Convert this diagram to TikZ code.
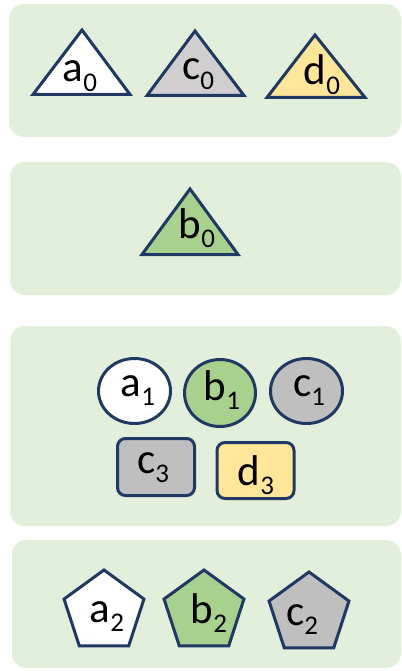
\documentclass[tikz,border=0pt]{standalone}
\usepackage{fontspec}
\setmainfont{Carlito}
\usetikzlibrary{shapes.geometric}
\definecolor{panelfill}{HTML}{E2EFDA}
\definecolor{edgecol}{RGB}{32,56,100}
\definecolor{grayA}{HTML}{D0CECE}
\definecolor{grayB}{HTML}{BFBFBF}
\definecolor{yel}{HTML}{FFE699}
\definecolor{grn}{HTML}{A9D18E}
\newcommand{\lbl}[2]{#1\raisebox{-0.21em}{\fontsize{27}{27}\selectfont #2}}
\tikzset{
  panelbox/.style={fill=panelfill, draw=none, rounded corners=15pt},
  shp/.style={draw=edgecol, line width=3pt},
  txt/.style={inner sep=0pt, anchor=base, font=\fontsize{43}{43}\selectfont},
  ell/.style={shp, ellipse, inner sep=0pt},
  rbox/.style={shp, rectangle, rounded corners=8pt, inner sep=0pt, minimum width=77pt, minimum height=57pt},
  pent/.style={shp, regular polygon, regular polygon sides=5, inner sep=0pt, minimum size=84pt}
}
\begin{document}
\begin{tikzpicture}[x=1pt,y=-1pt]
\useasboundingbox (0,0) rectangle (401,671);
% panels
\path[panelbox] (9,4) rectangle (401,137);
\path[panelbox] (10,162) rectangle (401,295);
\path[panelbox] (10,326) rectangle (401,526);
\path[panelbox] (12,540) rectangle (401,668);
% triangles panel 1
\draw[shp, fill=white] (82,30) -- (130,94.5) -- (33,94.5) -- cycle;
\node[txt] (a0) at (80,82) {\lbl{a}{0}};
\draw[shp, fill=grayA] (195,31) -- (244,95.5) -- (147,95.5) -- cycle;
\node[txt] (c0) at (198,80) {\lbl{c}{0}};
\draw[shp, fill=yel] (315,35) -- (365,97.5) -- (267,97.5) -- cycle;
\node[txt] (d0) at (322,85) {\lbl{d}{0}};
% panel 2
\draw[shp, fill=grn] (190,189) -- (238,254.5) -- (142,254.5) -- cycle;
\node[txt] (b0) at (197,238) {\lbl{b}{0}};
% panel 3
\node[ell, fill=white, minimum width=72pt, minimum height=65pt] (a1s) at (134.5,391) {};
\node[txt] (a1) at (138,396) {\lbl{a}{1}};
\node[ell, fill=grn, minimum width=71pt, minimum height=67pt] (b1s) at (220,393) {};
\node[txt] (b1) at (222,400) {\lbl{b}{1}};
\node[ell, fill=grayB, minimum width=72pt, minimum height=65pt] (c1s) at (306.5,391) {};
\node[txt] (c1) at (309,396) {\lbl{c}{1}};
\node[rbox, fill=grayB] (c3s) at (156,467) {};
\node[txt] (c3) at (153,473) {\lbl{c}{3}};
\node[rbox, fill=yel, minimum height=56pt] (d3s) at (255.5,470.5) {};
\node[txt] (d3) at (256,485) {\lbl{d}{3}};
% panel 4
\node[pent, fill=white] (a2s) at (104,612) {};
\node[txt] (a2) at (107,622) {\lbl{a}{2}};
\node[pent, fill=grn] (b2s) at (204,612) {};
\node[txt] (b2) at (209,623) {\lbl{b}{2}};
\node[pent, fill=grayB] (c2s) at (309,614) {};
\node[txt] (c2) at (302,625) {\lbl{c}{2}};
\end{tikzpicture}
\end{document}
